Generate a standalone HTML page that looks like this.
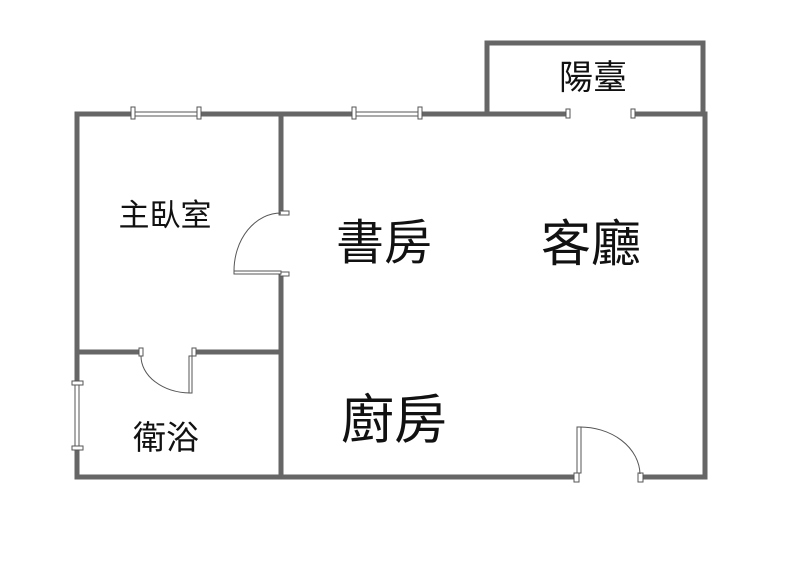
<!DOCTYPE html>
<html><head><meta charset="utf-8"><style>
html,body{margin:0;padding:0;background:#fff;width:800px;height:577px;overflow:hidden}
text{font-family:"Liberation Sans","Noto Sans CJK TC",sans-serif;fill:#111}
</style></head><body>
<svg width="800" height="577" viewBox="0 0 800 577" xmlns="http://www.w3.org/2000/svg">
<g stroke="#666" stroke-width="5" fill="none" stroke-linecap="square">
<polyline points="487,113 487,43 703,43 703,113"/>
<line x1="77" y1="114" x2="132" y2="114"/>
<line x1="200" y1="114" x2="353" y2="114"/>
<line x1="420" y1="114" x2="567" y2="114"/>
<line x1="633" y1="114" x2="705" y2="114"/>
<line x1="705" y1="114" x2="705" y2="477"/>
<line x1="77" y1="477" x2="575" y2="477"/>
<line x1="642" y1="477" x2="705" y2="477"/>
<line x1="77" y1="114" x2="77" y2="382"/>
<line x1="77" y1="448" x2="77" y2="477"/>
<line x1="281" y1="114" x2="281" y2="213"/>
<line x1="281" y1="275" x2="281" y2="477"/>
<line x1="77" y1="352" x2="138" y2="352"/>
<line x1="196" y1="352" x2="281" y2="352"/>
</g>
<g stroke="#555" stroke-width="1" fill="#fff">
<line x1="132" y1="112" x2="200" y2="112"/><line x1="132" y1="116" x2="200" y2="116"/>
<line x1="353" y1="112" x2="420" y2="112"/><line x1="353" y1="116" x2="420" y2="116"/>
<line x1="75" y1="382" x2="75" y2="448"/><line x1="79" y1="382" x2="79" y2="448"/>
<rect x="131" y="107" width="4" height="12"/><rect x="197" y="107" width="4" height="12"/>
<rect x="352" y="107" width="4" height="12"/><rect x="418" y="107" width="4" height="12"/>
<rect x="566" y="109" width="4" height="9"/><rect x="631" y="109" width="4" height="9"/>
<rect x="72" y="381" width="11" height="4"/><rect x="72" y="446" width="11" height="4"/>
<rect x="280" y="211" width="9" height="4"/><rect x="280" y="272" width="9" height="4"/>
<rect x="234" y="271" width="47" height="3"/>
<path d="M234,271 A47,58 0 0 1 281,213" fill="none"/>
<rect x="139" y="348" width="4" height="8"/><rect x="192" y="348" width="4" height="8"/>
<rect x="189" y="356" width="3" height="37"/>
<path d="M141,356 A50,37 0 0 0 190,393" fill="none"/>
<rect x="574" y="473" width="5" height="9"/><rect x="638" y="473" width="5" height="9"/>
<rect x="577" y="427" width="4" height="46"/>
<path d="M579,427 A60,48 0 0 1 640,474" fill="none"/>
</g>
<text x="165" y="226" font-size="31" text-anchor="middle">主臥室</text>
<text x="384" y="259" font-size="48" text-anchor="middle">書房</text>
<text x="591" y="261" font-size="50" text-anchor="middle">客廳</text>
<text x="394" y="438" font-size="53" text-anchor="middle">廚房</text>
<text x="166" y="449" font-size="33" text-anchor="middle">衛浴</text>
<text x="593" y="89" font-size="34" text-anchor="middle">陽臺</text>
</svg>
</body></html>
